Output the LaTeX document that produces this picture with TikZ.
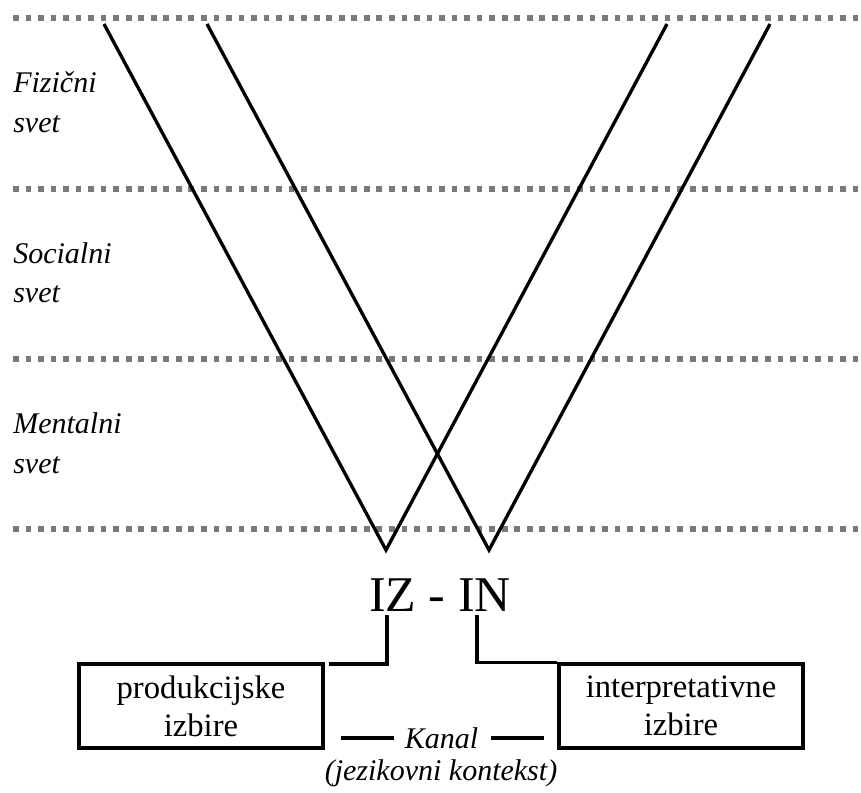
\documentclass[tikz,border=0pt]{standalone}
\usepackage{fontspec}
\setmainfont{Liberation Serif}
\begin{document}
\begin{tikzpicture}[x=0.75pt,y=-0.75pt,
  dotline/.style={draw=black!52,line width=4.4pt,dash pattern=on 4.3pt off 5.1pt},
  vline/.style={line width=2.5pt,line join=miter},
  conn/.style={line width=2.5pt},
  lab/.style={anchor=base west,inner sep=0pt,font=\fontsize{22.5pt}{26pt}\selectfont\itshape},
  boxnode/.style={draw,line width=2.7pt,minimum width=183pt,minimum height=63pt,align=center,inner sep=0pt,font=\fontsize{24.5pt}{28.5pt}\selectfont},
  big/.style={anchor=base,inner sep=0pt,font=\fontsize{37.5pt}{40pt}\selectfont},
  ital/.style={anchor=base,inner sep=0pt,font=\fontsize{22.5pt}{26pt}\selectfont\itshape}]
\useasboundingbox (0,0) rectangle (861,793);
% dotted level lines
\foreach \yy/\nm in {18/l1,189/l2,359/l3,529/l4}{
  \coordinate (\nm a) at (13,\yy);
  \coordinate (\nm b) at (861,\yy);
  \draw[dotline] (\nm a) -- (\nm b);
}
% level labels
\node[lab] (fiz1) at (13,92) {Fizični};
\node[lab] (fiz2) at (13,132) {svet};
\node[lab] (soc1) at (13,263) {Socialni};
\node[lab] (soc2) at (13,302) {svet};
\node[lab] (men1) at (13,433) {Mentalni};
\node[lab] (men2) at (13,473) {svet};
% V shapes
\coordinate (a1) at (104,24);
\coordinate (a2) at (386,550);
\coordinate (a3) at (667,24);
\coordinate (b1) at (207,24);
\coordinate (b2) at (489,550);
\coordinate (b3) at (770,24);
\draw[vline] (a1) -- (a2) -- (a3);
\draw[vline] (b1) -- (b2) -- (b3);
% IZ - IN
\node[big] (izin) at (440,611) {IZ - IN};
% boxes
\node[boxnode] (lbox) at (201,706) {produkcijske\\izbire};
\node[boxnode] (rbox) at (681,706) {interpretativne\\izbire};
% connectors
\coordinate (izt) at (387,615);
\coordinate (ize) at (329,664);
\coordinate (int) at (477,615);
\draw[conn] (izt) |- (ize);
\draw[conn] (int) |- (rbox.north west);
% Kanal
\node[ital] (kanal) at (441.5,748) {Kanal};
\coordinate (k1) at (341,738);
\coordinate (k2) at (394,738);
\coordinate (k3) at (491,738);
\coordinate (k4) at (544,738);
\draw[conn] (k1) -- (k2);
\draw[conn] (k3) -- (k4);
\node[ital] (kont) at (441,780) {(jezikovni kontekst)};
\end{tikzpicture}
\end{document}
